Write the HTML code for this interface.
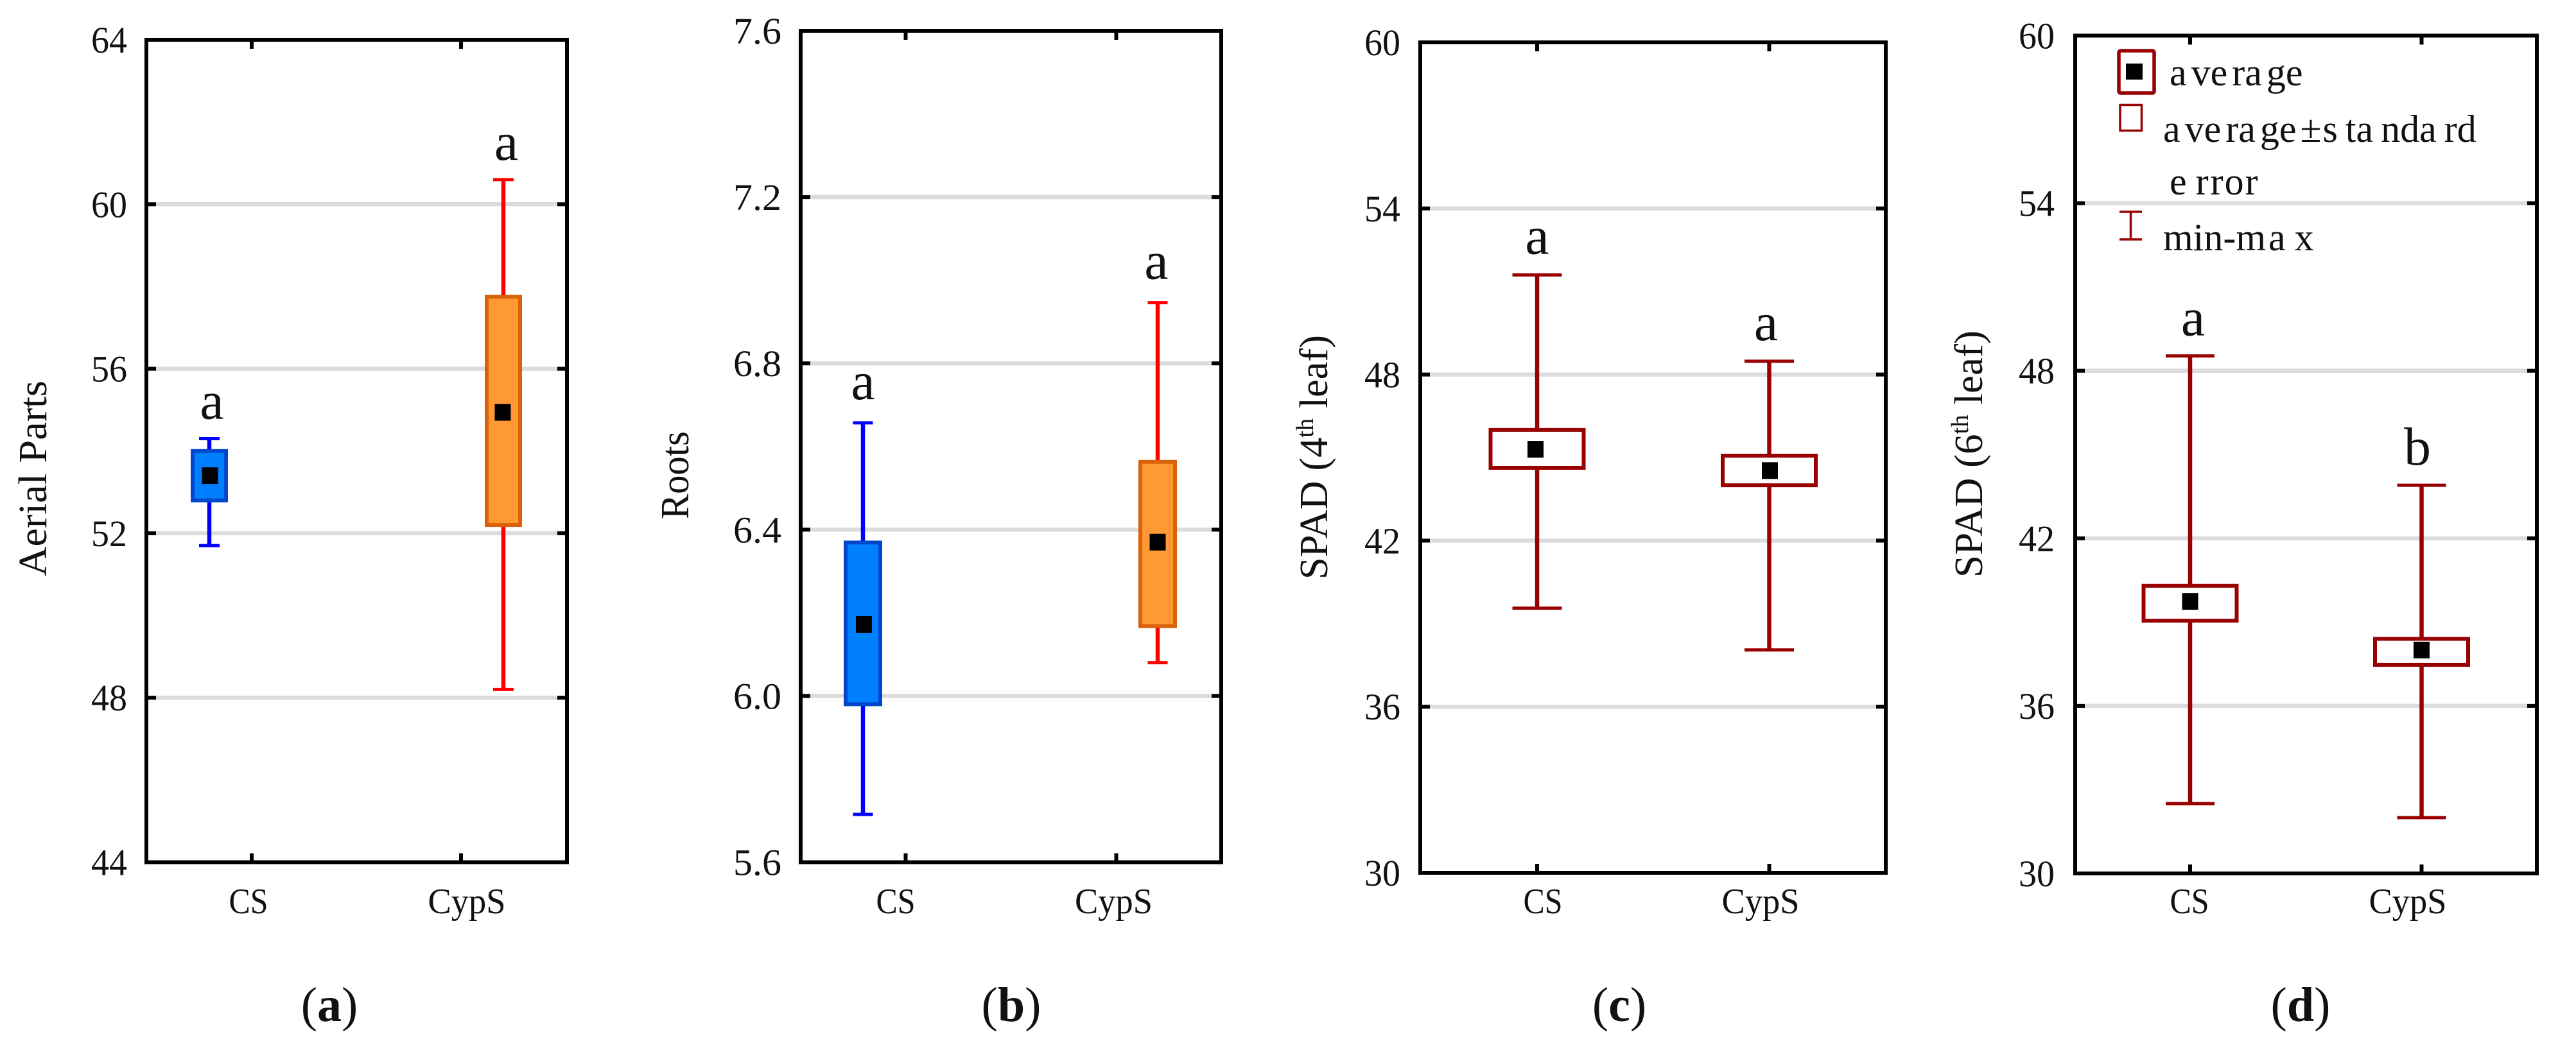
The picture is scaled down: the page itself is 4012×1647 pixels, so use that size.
<!DOCTYPE html>
<html lang="en">
<head>
<meta charset="utf-8">
<title>Box plots of aerial parts, roots and SPAD for CS and CypS</title>
<style>
html,body{margin:0;padding:0;background:#fff;width:4012px;height:1647px;overflow:hidden}
svg{display:block}
text{font-family:"Liberation Serif",serif;fill:#111}
</style>
</head>
<body>
<svg id="figure" xmlns="http://www.w3.org/2000/svg" width="4012" height="1647" viewBox="0 0 4012 1647">
  <rect width="4012" height="1647" fill="#fff"/>
  <g id="plots"></g>

  <text transform="translate(72 898) rotate(-90)" font-size="62" fill="#222" textLength="305" lengthAdjust="spacingAndGlyphs">Aerial Parts</text>
  <text transform="translate(1072 809) rotate(-90)" font-size="62" textLength="137" lengthAdjust="spacingAndGlyphs">Roots</text>
  <text transform="translate(2067 903) rotate(-90)" font-size="62" textLength="381" lengthAdjust="spacingAndGlyphs">SPAD (4<tspan font-size="38" dy="-22">th</tspan><tspan dy="22"> leaf)</tspan></text>
  <text transform="translate(3087 900) rotate(-90)" font-size="62" textLength="385" lengthAdjust="spacingAndGlyphs">SPAD (6<tspan font-size="38" dy="-22">th</tspan><tspan dy="22"> leaf)</tspan></text>

  <text x="513" y="1591" font-size="76" text-anchor="middle">(<tspan font-weight="bold">a</tspan>)</text>
  <text x="1575" y="1591" font-size="76" text-anchor="middle">(<tspan font-weight="bold">b</tspan>)</text>
  <text x="2522" y="1591" font-size="76" text-anchor="middle">(<tspan font-weight="bold">c</tspan>)</text>
  <text x="3583" y="1591" font-size="76" text-anchor="middle">(<tspan font-weight="bold">d</tspan>)</text>

  <g>
    <rect x="3300" y="79" width="55" height="66" rx="3" fill="#fff" stroke="#990000" stroke-width="5.5"/>
    <rect x="3311" y="99" width="26" height="25" fill="#000"/>
    <text x="3379" y="133" font-size="60" dx="0 7 0 7 0 7 0">average</text>
    <rect x="3302" y="163.5" width="33.5" height="40" fill="#fff" stroke="#990000" stroke-width="3.5"/>
    <text x="3369" y="221" font-size="60" dx="0 7 0 7 0 7 0 6 2 12 0 12 0 0 12 0">average±standard</text>
    <text x="3379" y="303" font-size="60" dx="0 14 3 2 2">error</text>
    <g stroke="#990000" stroke-width="3.5" fill="none">
      <line x1="3301" x2="3336" y1="330" y2="330"/>
      <line x1="3318.5" x2="3318.5" y1="330" y2="373"/>
      <line x1="3301" x2="3336" y1="373" y2="373"/>
    </g>
    <text x="3369" y="390" font-size="60" dx="0 0 0 0 0 4 14">min-max</text>
  </g>
</svg>

<script>
// ---- Chart data ----
const categories = ['CS', 'CypS'];

const aTicks = [44, 48, 52, 56, 60, 64];
const aMean = [53.4, 54.94];
const aSeHigh = [54.0, 57.75];
const aSeLow = [52.8, 52.2];
const aMax = [54.3, 60.6];
const aMin = [51.7, 48.2];
const aLetters = ['a', 'a'];

const bTicks = [5.6, 6.0, 6.4, 6.8, 7.2, 7.6];
const bMean = [6.172, 6.37];
const bSeHigh = [6.369, 6.563];
const bSeLow = [5.98, 6.168];
const bMax = [6.657, 6.946];
const bMin = [5.715, 6.08];
const bLetters = ['a', 'a'];

const cTicks = [30, 36, 42, 48, 54, 60];
const cMean = [45.3, 44.53];
const cSeHigh = [46.0, 45.07];
const cSeLow = [44.63, 44.0];
const cMax = [51.6, 48.48];
const cMin = [39.56, 38.05];
const cLetters = ['a', 'a'];

const dTicks = [30, 36, 42, 48, 54, 60];
const dMean = [39.74, 38.0];
const dSeHigh = [40.3, 38.4];
const dSeLow = [39.05, 37.47];
const dMax = [48.53, 43.9];
const dMin = [32.5, 32.0];
const dLetters = ['a', 'b'];

// ---- Layout and styling (not data) ----
const colored = [
  { fill: '#0080ff', edge: '#0047cc', whisker: '#0000ff' },
  { fill: '#ff9933', edge: '#d9620a', whisker: '#ff0000' }
];
const dark = [
  { fill: '#ffffff', edge: '#990000', whisker: '#990000' },
  { fill: '#ffffff', edge: '#990000', whisker: '#990000' }
];

const panels = [
  { id: 'a', left: 228, right: 883, top: 62, bottom: 1343.5, ticks: aTicks, decimals: 0,
    mean: aMean, seHigh: aSeHigh, seLow: aSeLow, max: aMax, min: aMin, letters: aLetters,
    styles: colored, centers: [326, 784], boxHalf: 26, capHalf: 16, meanShift: [1, -1],
    tickX: [392, 718], catX: [387, 727], labelRight: 198, labelW: 56,
    letterX: [330, 788.5], letterDy: 31 },
  { id: 'b', left: 1247, right: 1902, top: 48, bottom: 1343.5, ticks: bTicks, decimals: 1,
    mean: bMean, seHigh: bSeHigh, seLow: bSeLow, max: bMax, min: bMin, letters: bLetters,
    styles: colored, centers: [1344, 1803], boxHalf: 27, capHalf: 15.5, meanShift: [1.5, 0],
    tickX: [1410.5, 1738.5], catX: [1395, 1734.5], labelRight: 1217, labelW: 75,
    letterX: [1344, 1801], letterDy: 37 },
  { id: 'c', left: 2212, right: 2937, top: 66, bottom: 1360, ticks: cTicks, decimals: 0,
    mean: cMean, seHigh: cSeHigh, seLow: cSeLow, max: cMax, min: cMin, letters: cLetters,
    styles: dark, centers: [2394, 2755.5], boxHalf: 72.5, capHalf: 38.5, meanShift: [-2.5, 1],
    tickX: [2394, 2755.5], catX: [2403, 2742], labelRight: 2181, labelW: 56,
    letterX: [2394, 2750.5], letterDy: 33 },
  { id: 'd', left: 3232, right: 3951, top: 55.5, bottom: 1361, ticks: dTicks, decimals: 0,
    mean: dMean, seHigh: dSeHigh, seLow: dSeLow, max: dMax, min: dMin, letters: dLetters,
    styles: dark, centers: [3411, 3771.5], boxHalf: 72.5, capHalf: 38, meanShift: [0, 0],
    tickX: [3411, 3771.5], catX: [3410, 3750], labelRight: 3200, labelW: 56,
    letterX: [3415.5, 3765], letterDy: 32 }
];

const SVG_NS = 'http://www.w3.org/2000/svg';
function make(parent, tag, props) {
  const el = document.createElementNS(SVG_NS, tag);
  Object.keys(props).forEach(function (k) { el.setAttribute(k, props[k]); });
  parent.appendChild(el);
  return el;
}

const plotsRoot = document.getElementById('plots');

panels.forEach(function (p) {
  const lo = p.ticks[0];
  const hi = p.ticks[p.ticks.length - 1];
  const yScale = function (v) { return p.bottom - (v - lo) / (hi - lo) * (p.bottom - p.top); };

  const g = make(plotsRoot, 'g', {});
  
  

  // horizontal gridlines, interior ticks only
  p.ticks.forEach(function (t) {
    if (t === lo || t === hi) return;
    const grid = make(g, 'line', { x1: p.left, x2: p.right, y1: yScale(t), y2: yScale(t), stroke: '#dcdcdc', 'stroke-width': 6.5 });
    
    
  });

  // y ticks and labels
  p.ticks.forEach(function (t) {
    const y = yScale(t);
    const leftTick = make(g, 'line', { x1: p.left, x2: p.left + 15, y1: y, y2: y, stroke: '#000', 'stroke-width': 6 });
    
    
    const rightTick = make(g, 'line', { x1: p.right - 15, x2: p.right, y1: y, y2: y, stroke: '#000', 'stroke-width': 6 });
    
    
    const label = make(g, 'text', { x: p.labelRight, y: y + 20, 'font-size': 58, 'text-anchor': 'end', textLength: p.labelW, lengthAdjust: 'spacingAndGlyphs' });
    label.textContent = t.toFixed(p.decimals);
    
    
  });

  categories.forEach(function (cat, i) {
    const st = p.styles[i];
    const cx = p.centers[i];

    // x ticks and category labels
    const topTick = make(g, 'line', { x1: p.tickX[i], x2: p.tickX[i], y1: p.top, y2: p.top + 14, stroke: '#000', 'stroke-width': 6 });
    
    
    const botTick = make(g, 'line', { x1: p.tickX[i], x2: p.tickX[i], y1: p.bottom - 14, y2: p.bottom, stroke: '#000', 'stroke-width': 6 });
    
    
    const catLabel = make(g, 'text', { x: p.catX[i], y: 1423, 'font-size': 56, 'text-anchor': 'middle', textLength: i === 0 ? 61 : 121, lengthAdjust: 'spacingAndGlyphs' });
    catLabel.textContent = cat;
    
    

    // whisker
    const stem = make(g, 'line', { x1: cx, x2: cx, y1: yScale(p.max[i]), y2: yScale(p.min[i]), stroke: st.whisker, 'stroke-width': 6.5 });
    
    
    const capHi = make(g, 'line', { x1: cx - p.capHalf, x2: cx + p.capHalf, y1: yScale(p.max[i]), y2: yScale(p.max[i]), stroke: st.whisker, 'stroke-width': 5 });
    
    
    const capLo = make(g, 'line', { x1: cx - p.capHalf, x2: cx + p.capHalf, y1: yScale(p.min[i]), y2: yScale(p.min[i]), stroke: st.whisker, 'stroke-width': 5 });
    
    

    // standard error box
    const boxTop = yScale(p.seHigh[i]);
    const boxBottom = yScale(p.seLow[i]);
    const box = make(g, 'rect', { x: cx - p.boxHalf, y: boxTop, width: p.boxHalf * 2, height: boxBottom - boxTop, fill: st.fill, stroke: st.edge, 'stroke-width': 6 });
    
    

    // mean marker
    const my = yScale(p.mean[i]);
    const marker = make(g, 'rect', { x: cx + p.meanShift[i] - 12.5, y: my - 13, width: 25, height: 26, fill: '#000' });
    
    

    // significance letter, placed just above the max whisker
    const letter = make(g, 'text', { x: p.letterX[i], y: yScale(p.max[i]) - p.letterDy, 'font-size': 84, 'text-anchor': 'middle' });
    letter.textContent = p.letters[i];
    
    
  });

  // plot frame
  const frame = make(g, 'rect', { x: p.left, y: p.top, width: p.right - p.left, height: p.bottom - p.top, fill: 'none', stroke: '#000', 'stroke-width': 6 });
  
  
});
</script>
</body>
</html>
